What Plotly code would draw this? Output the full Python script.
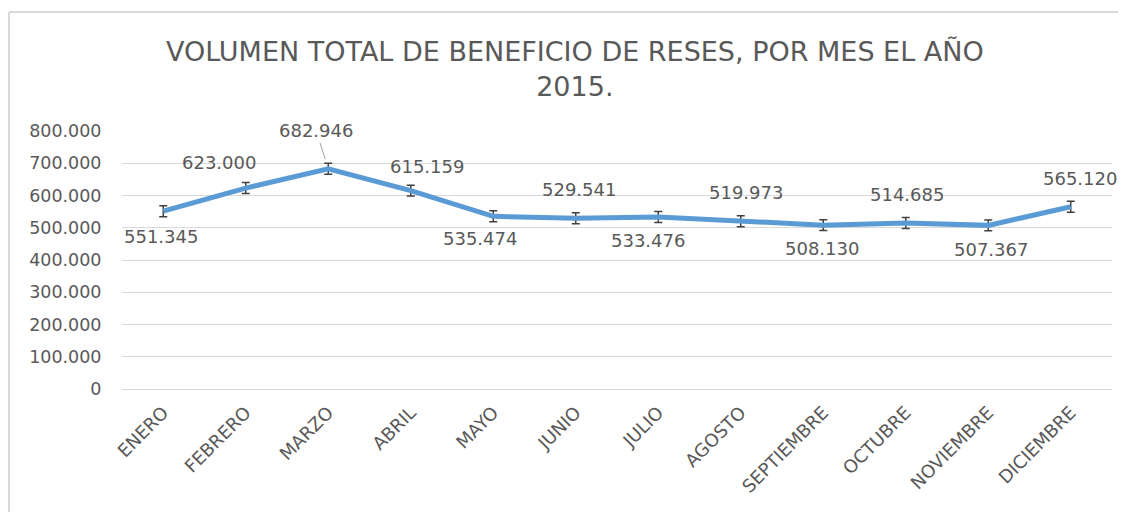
import plotly.graph_objects as go

meses = ["ENERO", "FEBRERO", "MARZO", "ABRIL", "MAYO", "JUNIO", "JULIO",
         "AGOSTO", "SEPTIEMBRE", "OCTUBRE", "NOVIEMBRE", "DICIEMBRE"]
volumen = [551345, 623000, 682946, 615159, 535474, 529541, 533476,
           519973, 508130, 514685, 507367, 565120]
error = [17000] * 12
y_ticks = [0, 100000, 200000, 300000, 400000, 500000, 600000, 700000, 800000]

# label offsets (pixels) relative to each point
label_dx = [-2, -27, -12, 16, -13, 3, -10, 5, -1, 1, 3, 9]
label_dy = [25, -26, -38, -24, 22, -29, 24, -29, 23, -29, 24, -28]

FONT = "DejaVu Sans"
GREY = "#595959"

def fmt(v):
    return f"{v:,}".replace(",", ".")

fig = go.Figure()
fig.add_trace(go.Scatter(
    x=meses, y=volumen, mode="lines",
    line=dict(color="#5B9BD5", width=5),
    error_y=dict(type="data", array=error, visible=True,
                 color="#404040", thickness=1.5, width=4),
    hoverinfo="x+y", showlegend=False,
))

for i, (m, v) in enumerate(zip(meses, volumen)):
    if m == "MARZO":
        fig.add_annotation(x=m, y=v, text=fmt(v), showarrow=True,
                           ax=label_dx[i], ay=label_dy[i], arrowhead=0,
                           arrowwidth=1, arrowcolor="#A6A6A6", standoff=10,
                           font=dict(family=FONT, size=18, color=GREY))
    else:
        fig.add_annotation(x=m, y=v, text=fmt(v), showarrow=False,
                           xshift=label_dx[i], yshift=-label_dy[i],
                           font=dict(family=FONT, size=18, color=GREY))

# outer chart border (left and top edges visible)
fig.add_shape(type="line", xref="paper", yref="paper",
              x0=-0.1141, x1=1.1, y0=1.461, y1=1.461,
              line=dict(color="#D9D9D9", width=2))
fig.add_shape(type="line", xref="paper", yref="paper",
              x0=-0.1141, x1=-0.1141, y0=1.461, y1=-0.6,
              line=dict(color="#D9D9D9", width=2))

fig.update_layout(
    width=1118, height=504,
    margin=dict(l=114, r=14, t=123, b=123),
    paper_bgcolor="white", plot_bgcolor="white",
    separators=",.",
    title=dict(text="VOLUMEN TOTAL DE BENEFICIO DE RESES, POR MES EL AÑO<br>2015.",
               x=0.507, xanchor="center", y=0.895, yanchor="middle",
               font=dict(family=FONT, size=27, color=GREY)),
    xaxis=dict(type="category", range=[-0.5, 11.5], tickangle=-45,
               showgrid=False, showline=False, zeroline=False,
               ticks="outside", ticklen=5, tickcolor="rgba(0,0,0,0)",
               tickfont=dict(family=FONT, size=18, color=GREY)),
    yaxis=dict(range=[0, 800000], tickvals=y_ticks, tickformat=",.0f",
               showgrid=True, gridcolor="#D9D9D9", gridwidth=1,
               zeroline=True, zerolinecolor="#D9D9D9", zerolinewidth=1,
               showline=False, ticks="outside", ticklen=16,
               tickcolor="rgba(0,0,0,0)",
               tickfont=dict(family=FONT, size=17.5, color=GREY)),
)

fig.write_html("out.html")
